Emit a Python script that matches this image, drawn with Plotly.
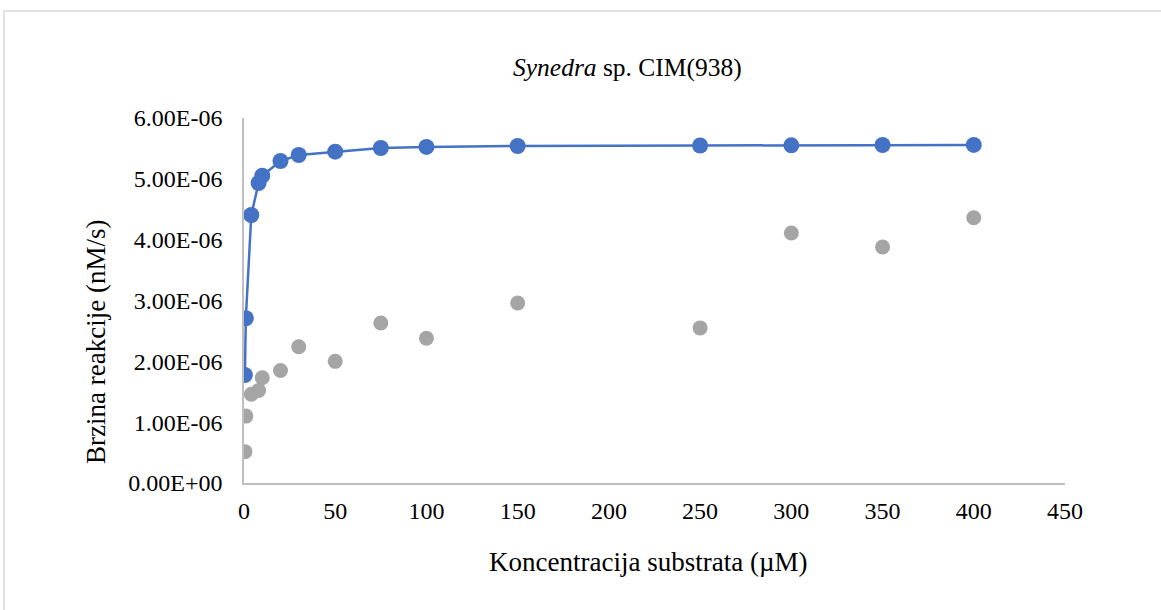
import plotly.graph_objects as go

conc = [0.5, 1, 4, 8, 10, 20, 30, 50, 75, 100, 150, 250, 300, 350, 400]
fit_rate = [1.775e-6, 2.708e-6, 4.406e-6, 4.932e-6, 5.052e-6, 5.293e-6, 5.392e-6,
            5.446e-6, 5.507e-6, 5.524e-6, 5.540e-6, 5.548e-6, 5.551e-6, 5.556e-6, 5.557e-6]
meas_rate = [0.515e-6, 1.10e-6, 1.46e-6, 1.52e-6, 1.73e-6, 1.85e-6, 2.24e-6,
             2.00e-6, 2.63e-6, 2.38e-6, 2.96e-6, 2.55e-6, 4.11e-6, 3.88e-6, 4.36e-6]
x_ticks = [0, 50, 100, 150, 200, 250, 300, 350, 400, 450]
y_ticks = [0, 1e-6, 2e-6, 3e-6, 4e-6, 5e-6, 6e-6]
y_labels = ["0.00E+00", "1.00E-06", "2.00E-06", "3.00E-06", "4.00E-06", "5.00E-06", "6.00E-06"]

FONT = "Liberation Serif, Times New Roman, serif"
W, H = 1161, 610
L, R, T, B = 244, 96, 118, 127
pw, ph = W - L - R, H - T - B

fig = go.Figure()
fig.add_trace(go.Scatter(x=conc, y=meas_rate, mode="markers",
                         marker=dict(color="#A5A5A5", size=15, line=dict(width=0)),
                         showlegend=False))
fig.add_trace(go.Scatter(x=conc, y=fit_rate, mode="lines+markers",
                         line=dict(color="#4472C4", width=2.5),
                         marker=dict(color="#4472C4", size=16, line=dict(width=0)),
                         showlegend=False))

def px_x(p):
    return (p - L) / pw

def px_y(p):
    return (H - B - p) / ph

fig.update_layout(
    width=W, height=H,
    margin=dict(l=L, r=R, t=T, b=B),
    paper_bgcolor="white", plot_bgcolor="white",
    font=dict(family=FONT, size=24, color="#000000"),
    xaxis=dict(range=[0, 450], tickvals=x_ticks, ticktext=[str(v) for v in x_ticks],
               showgrid=False, zeroline=False, showline=True, linecolor="#BFBFBF",
               linewidth=1.5, ticks="", ticklabelstandoff=5,
               tickfont=dict(family=FONT, size=24)),
    yaxis=dict(range=[0, 6e-6], tickvals=y_ticks, ticktext=y_labels,
               showgrid=False, zeroline=False, showline=True, linecolor="#BFBFBF",
               linewidth=1.5, ticks="", ticklabelstandoff=15,
               tickfont=dict(family=FONT, size=24)),
    annotations=[
        dict(text="<i>Synedra</i> sp. CIM(938)", xref="paper", yref="paper",
             x=px_x(627), y=px_y(67), xanchor="center", yanchor="middle",
             showarrow=False, font=dict(family=FONT, size=25.5)),
        dict(text="Koncentracija substrata (µM)", xref="paper", yref="paper",
             x=px_x(648), y=px_y(562), xanchor="center", yanchor="middle",
             showarrow=False, font=dict(family=FONT, size=27)),
        dict(text="Brzina reakcije (nM/s)", xref="paper", yref="paper",
             x=px_x(96), y=px_y(342), xanchor="center", yanchor="middle",
             textangle=-90, showarrow=False, font=dict(family=FONT, size=27)),
    ],
    shapes=[dict(type="rect", xref="paper", yref="paper",
                 x0=px_x(4), x1=px_x(1300), y0=px_y(700), y1=px_y(11),
                 line=dict(color="#D9D9D9", width=1.5), fillcolor="rgba(0,0,0,0)",
                 layer="below")],
)

fig.write_html("out.html", config={"displayModeBar": False},
               post_script="document.body.style.margin='0';")
